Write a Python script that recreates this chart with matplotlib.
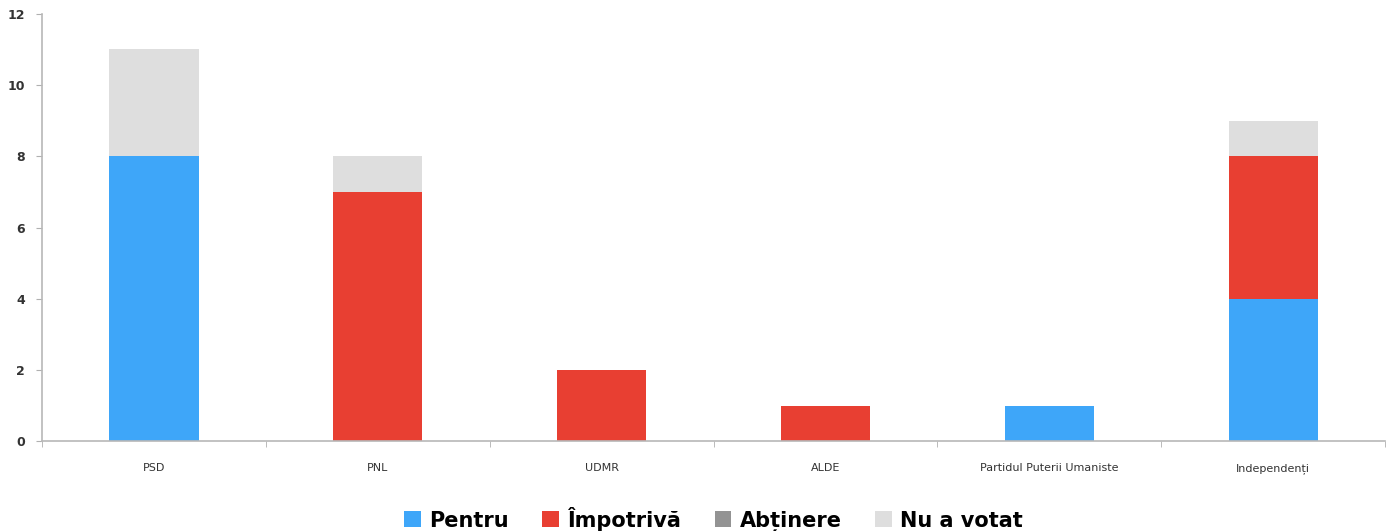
import numpy as np
import matplotlib
matplotlib.use("Agg")
import matplotlib.pyplot as plt

# Vote breakdown per party
parties = ["PSD", "PNL", "UDMR", "ALDE", "Partidul Puterii Umaniste", "Independenți"]
pentru = [8, 0, 0, 0, 1, 4]
impotriva = [0, 7, 2, 1, 0, 4]
abtinere = [0, 0, 0, 0, 0, 0]
nu_a_votat = [3, 1, 0, 0, 0, 1]

series = [
    ("Pentru", pentru, "#3ea6f9"),
    ("Împotrivă", impotriva, "#e83f32"),
    ("Abținere", abtinere, "#939393"),
    ("Nu a votat", nu_a_votat, "#dedede"),
]

fig = plt.figure(figsize=(13.95, 5.31), dpi=100)
ax = fig.add_axes([0.030, 0.169, 0.963, 0.805])

x = np.arange(len(parties))
bottom = np.zeros(len(parties))
for label, vals, color in series:
    ax.bar(x, vals, width=0.4, bottom=bottom, color=color, label=label)
    bottom += np.array(vals)

ax.set_xlim(-0.5, len(parties) - 0.5)
ax.set_ylim(0, 12)
ax.set_yticks(range(0, 13, 2))
ax.set_xticks(x)
ax.set_xticklabels(parties, fontsize=8, color="#333333")
ax.set_xticks(np.arange(-0.5, len(parties)), minor=True)
ax.tick_params(axis="x", which="major", length=0, pad=16)
ax.tick_params(axis="x", which="minor", length=4, color="#b0b0b0", direction="out")
ax.tick_params(axis="y", length=4, color="#b0b0b0", labelsize=9, pad=8)
for lbl in ax.get_yticklabels():
    lbl.set_fontweight("bold")
    lbl.set_color("#333333")

for s in ["top", "right"]:
    ax.spines[s].set_visible(False)
for s in ["left", "bottom"]:
    ax.spines[s].set_color("#b8b8b8")
    ax.spines[s].set_linewidth(1.2)

ax.legend(loc="lower center", bbox_to_anchor=(0.5, -0.255), ncol=4, frameon=False,
          prop={"weight": "bold", "size": 15}, handlelength=0.8, handleheight=0.8,
          handletextpad=0.4, columnspacing=1.6)

fig.savefig("out.png", dpi=100)
